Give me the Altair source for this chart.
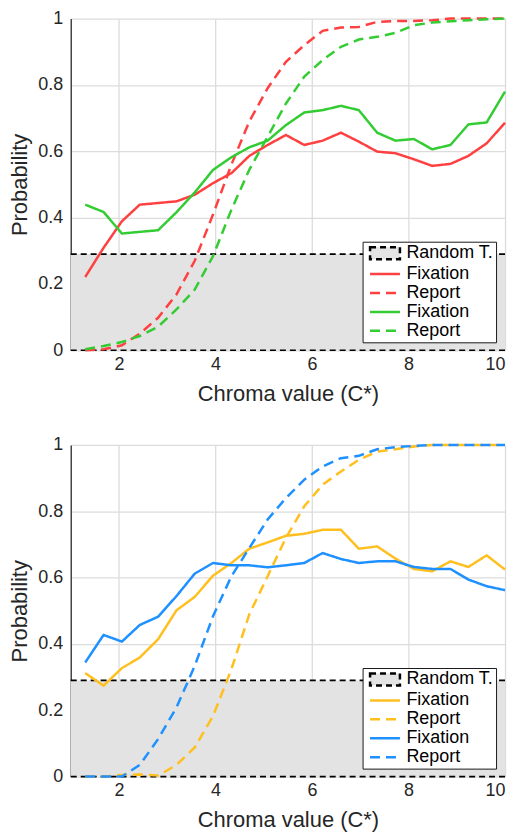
import altair as alt
import pandas as pd

# ---------------- data ----------------
chroma = [1.30, 1.68, 2.06, 2.43, 2.81, 3.19, 3.57, 3.95, 4.33, 4.70, 5.08, 5.46,
          5.84, 6.22, 6.60, 6.97, 7.35, 7.73, 8.11, 8.49, 8.87, 9.24, 9.62, 10.0]

random_threshold = 0.29

# top panel
red_fixation = [0.221, 0.309, 0.389, 0.439, 0.444, 0.449, 0.469, 0.504, 0.534, 0.586, 0.619, 0.649,
                0.619, 0.632, 0.656, 0.629, 0.599, 0.594, 0.576, 0.556, 0.562, 0.586, 0.624, 0.686]
red_report = [0.0, 0.003, 0.015, 0.05, 0.098, 0.168, 0.27, 0.41, 0.56, 0.69, 0.79, 0.87,
              0.92, 0.963, 0.973, 0.975, 0.99, 0.993, 0.993, 0.995, 1.0, 1.0, 1.0, 1.0]
green_fixation = [0.439, 0.417, 0.352, 0.357, 0.362, 0.416, 0.476, 0.544, 0.582, 0.612, 0.632, 0.679,
                  0.717, 0.724, 0.737, 0.724, 0.656, 0.632, 0.637, 0.606, 0.619, 0.681, 0.687, 0.780]
green_report = [0.003, 0.013, 0.025, 0.043, 0.071, 0.123, 0.183, 0.284, 0.424, 0.544, 0.644, 0.744,
                0.825, 0.875, 0.915, 0.937, 0.945, 0.957, 0.98, 0.988, 0.992, 0.995, 0.998, 1.0]

# bottom panel
orange_fixation = [0.312, 0.274, 0.327, 0.359, 0.414, 0.501, 0.542, 0.606, 0.644, 0.687, 0.706, 0.726,
                   0.732, 0.744, 0.744, 0.687, 0.694, 0.657, 0.626, 0.619, 0.649, 0.632, 0.667, 0.624]
orange_report = [0.0, 0.0, 0.005, 0.006, 0.003, 0.035, 0.088, 0.183, 0.324, 0.489, 0.604, 0.72,
                 0.815, 0.88, 0.92, 0.955, 0.98, 0.987, 0.995, 1.0, 1.0, 1.0, 1.0, 1.0]
blue_fixation = [0.344, 0.427, 0.407, 0.457, 0.482, 0.544, 0.612, 0.644, 0.637, 0.637, 0.631, 0.637,
                 0.644, 0.674, 0.656, 0.644, 0.649, 0.649, 0.632, 0.626, 0.626, 0.594, 0.574, 0.562]
blue_report = [0.0, 0.0, 0.0, 0.035, 0.113, 0.208, 0.334, 0.484, 0.604, 0.689, 0.775, 0.84,
               0.895, 0.935, 0.96, 0.967, 0.987, 0.993, 0.997, 1.0, 1.0, 1.0, 1.0, 1.0]

legend_labels = ["Random T.", "Fixation", "Report", "Fixation", "Report"]
y_ticks = [0, 0.2, 0.4, 0.6, 0.8, 1]
x_ticks = [2, 4, 6, 8, 10]

FONT = "Liberation Sans"
TXT = "#262626"
W, H = 436, 333

# legend symbol shapes (unit path, scaled by sqrt(size)/2)
LINE_SYM = "M-0.5,0L3.25,0"
RECT_SYM = "M-0.5,-0.75L3.25,-0.75L3.25,0.75L-0.5,0.75Z"


def panel(tag, col_a, col_b, fix_a, rep_a, fix_b, rep_b):
    keys = [f"{lab}|{tag}{i}" for i, lab in enumerate(legend_labels)]
    rows = []
    for key, ys in zip(keys[1:], [fix_a, rep_a, fix_b, rep_b]):
        for xv, yv in zip(chroma, ys):
            rows.append({"x": xv, "y": yv, "series": key})
    df = pd.DataFrame(rows)

    colors = ["black", col_a, col_a, col_b, col_b]
    fills = ["#e3e3e3", "transparent", "transparent", "transparent", "transparent"]
    dashes = [[6, 4], [1, 0], [10, 6], [1, 0], [10, 6]]
    shapes = [RECT_SYM, LINE_SYM, LINE_SYM, LINE_SYM, LINE_SYM]

    xs = alt.X("x:Q", scale=alt.Scale(domain=[1, 10], nice=False, zero=False),
               axis=alt.Axis(values=x_ticks, title="Chroma value (C*)", grid=True,
                             domain=False, ticks=False, labelPadding=5, titlePadding=10.5))
    ys = alt.Y("y:Q", scale=alt.Scale(domain=[0, 1], nice=False),
               axis=alt.Axis(values=y_ticks, format="~g", title="Probability", grid=True,
                             domain=True, ticks=False, labelPadding=8, titlePadding=6))

    base = alt.Chart(df)

    legend_layer = base.transform_filter("false").mark_point(
        filled=False, opacity=1, strokeWidth=2.5
    ).encode(
        x=xs, y=ys,
        color=alt.Color("series:N", scale=alt.Scale(domain=keys, range=colors),
                        legend=alt.Legend(
                            orient="none", legendX=293, legendY=224, title=None,
                            fillColor="white", strokeColor="#1a1a1a", padding=2,
                            labelFont=FONT, labelFontSize=18, labelColor="black",
                            labelExpr="split(datum.label, '|')[0]",
                            symbolSize=256, symbolStrokeWidth=2.5,
                            symbolFillColor="transparent",
                            rowPadding=0, labelOffset=23)),
        fill=alt.Fill("series:N", scale=alt.Scale(domain=keys, range=fills)),
        strokeDash=alt.StrokeDash("series:N", scale=alt.Scale(domain=keys, range=dashes)),
        shape=alt.Shape("series:N", scale=alt.Scale(domain=keys, range=shapes)),
    )

    shade = alt.Chart(pd.DataFrame({"x0": [1], "x1": [10], "y0": [0], "y1": [random_threshold]})
                      ).mark_rect(color="#e3e3e3").encode(
        x="x0:Q", x2="x1:Q", y="y0:Q", y2="y1:Q")

    rules = alt.Chart(pd.DataFrame({"y": [0, random_threshold]})).mark_rule(
        color="black", strokeDash=[6, 4], strokeWidth=1.6).encode(y="y:Q")

    lines = base.mark_line(strokeWidth=2.5, clip=False).encode(
        x=xs, y=ys,
        color=alt.Color("series:N"),
        strokeDash=alt.StrokeDash("series:N"),
        detail="series:N",
    )

    return alt.layer(legend_layer, shade, rules, lines).properties(width=W, height=H)


top = panel("a", "#ff4040", "#33cc33", red_fixation, red_report, green_fixation, green_report)
bottom = panel("b", "#ffbf1f", "#1e90ff", orange_fixation, orange_report, blue_fixation, blue_report)

chart = alt.vconcat(top, bottom, spacing=31).resolve_scale(
    color="independent", fill="independent", strokeDash="independent", shape="independent"
).resolve_legend(
    color="independent", fill="independent", strokeDash="independent", shape="independent"
).properties(
    padding={"left": 0, "top": 0, "right": 0, "bottom": 0}
).configure_view(stroke=None).configure_axis(
    labelFont=FONT, titleFont=FONT, labelFontSize=18, titleFontSize=22,
    labelColor=TXT, titleColor=TXT, titleFontWeight="normal",
    gridColor="#dcdcdc", gridWidth=1.3, domainColor="#444444", domainWidth=1.5,
)

chart.save("out.html", embed_options={"renderer": "svg", "actions": False})
